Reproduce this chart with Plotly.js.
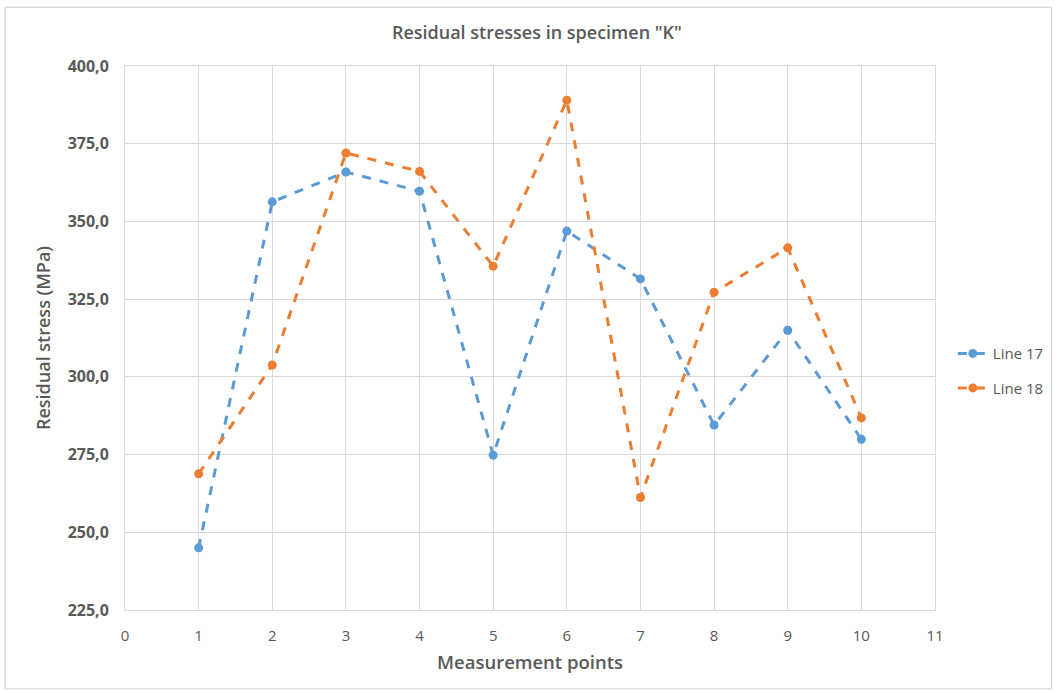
<!DOCTYPE html>
<html><head><meta charset="utf-8">
<script src="https://cdn.plot.ly/plotly-3.0.1.min.js"></script>
<style>html,body{margin:0;padding:0;background:#fff}#chart{width:1059px;height:693px}</style>
</head><body><div id="chart"></div>
<script>
const points = [1, 2, 3, 4, 5, 6, 7, 8, 9, 10];
const line17 = [245.0, 356.3, 365.9, 359.7, 274.8, 346.9, 331.5, 284.5, 315.0, 279.9];
const line18 = [268.8, 303.8, 372.0, 366.1, 335.6, 389.0, 261.2, 327.2, 341.5, 286.8];
const seriesNames = ["Line 17", "Line 18"];
const xTicks = [0,1,2,3,4,5,6,7,8,9,10,11];
const yTicks = [225, 250, 275, 300, 325, 350, 375, 400];

const font = "Open Sans, Noto Sans, sans-serif";
const grey = "#595959";
const traces = [
  {x: points, y: line17, name: seriesNames[0], legendgroup: "a", type: "scatter", mode: "lines+markers",
   line: {color: "#5B9BD5", width: 3, dash: "dash"}, marker: {color: "#5B9BD5", size: 9}},
  {x: points, y: line18, name: seriesNames[1], legendgroup: "b", type: "scatter", mode: "lines+markers",
   line: {color: "#ED7D31", width: 3, dash: "dash"}, marker: {color: "#ED7D31", size: 9}}
];
const layout = {
  width: 1059, height: 693,
  margin: {l: 125, r: 124, t: 66, b: 83, autoexpand: false},
  paper_bgcolor: "#fff", plot_bgcolor: "#fff",
  separators: ",.",
  font: {family: font, color: grey, size: 14},
  title: {text: "Residual stresses in specimen \"K\"", x: 0.507, xanchor: "center", y: 0.953, yanchor: "middle",
          font: {family: font, size: 18, color: grey, weight: 600}},
  xaxis: {range: [0, 11], tickvals: xTicks, ticktext: xTicks.map(String), showgrid: true, gridcolor: "#d9d9d9",
          zeroline: false, showline: true, linecolor: "#d9d9d9", mirror: true, ticks: "",
          tickfont: {size: 15, color: grey}, ticklabelstandoff: 12,
          title: {text: "Measurement points", font: {size: 18.5, color: grey, weight: 600}, standoff: 12}},
  yaxis: {range: [225, 400], tickvals: yTicks, tickformat: ".1f", showgrid: true, gridcolor: "#d9d9d9",
          zeroline: false, showline: true, linecolor: "#d9d9d9", mirror: true, ticks: "",
          tickfont: {size: 16, color: grey, weight: 700}, ticklabelstandoff: 12,
          title: {text: "Residual stress (MPa)", font: {size: 18, color: grey, weight: 600}, standoff: 12}},
  legend: {x: 1.022, y: 0.44, xanchor: "left", yanchor: "middle", font: {size: 15, color: grey},
           itemwidth: 30, bgcolor: "rgba(0,0,0,0)", traceorder: "grouped", tracegroupgap: 12},
  shapes: [{type: "rect", xref: "paper", yref: "paper", x0: -0.148, x1: 1.144, y0: -0.145, y1: 1.108,
            line: {color: "#cfcfcf", width: 1}, fillcolor: "rgba(0,0,0,0)", layer: "below"}],
  showlegend: true
};
Plotly.newPlot("chart", traces, layout, {displayModeBar: false, staticPlot: true});
</script></body></html>
